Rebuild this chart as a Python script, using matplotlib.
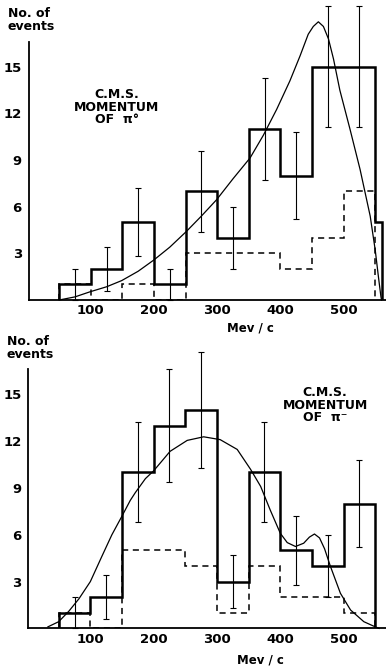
import matplotlib.pyplot as plt

# pi0 panel
top_edges = [50, 100, 150, 200, 250, 300, 350, 400, 450, 500, 550, 560]
top_counts = [1, 2, 5, 1, 7, 4, 11, 8, 15, 15, 5]
dash_edges = [50, 100, 150, 200, 250, 300, 350, 400, 450, 500, 550]
top_dash = [1, 0, 1, 0, 3, 3, 3, 2, 4, 7]
centers = [75, 125, 175, 225, 275, 325, 375, 425, 475, 525]
top_vals = [1, 2, 5, 1, 7, 4, 11, 8, 15, 15]
top_err = [1, 1.4, 2.2, 1, 2.6, 2, 3.3, 2.8, 3.9, 3.9]
top_curve_x = [50, 75, 99, 125, 149, 175, 200, 225, 251, 275, 299, 325, 352, 373, 394,
               415, 431, 444, 452, 460, 468, 476, 484, 494, 510, 526, 542, 550, 555, 559, 560]
top_curve_y = [0, 0.2, 0.53, 0.85, 1.25, 1.85, 2.58, 3.4, 4.4, 5.4, 6.45, 7.8, 9.14, 10.6, 12.26,
               14.1, 15.7, 17.1, 17.6, 17.9, 17.6, 16.8, 15.5, 13.5, 11.0, 8.4, 5.4, 3.2, 1.5, 0.2, 0]

# pi- panel
bot_edges = [50, 100, 150, 200, 250, 300, 350, 400, 450, 500, 550]
bot_counts = [1, 2, 10, 13, 14, 3, 10, 5, 4, 8]
bot_dash = [1, 0, 5, 5, 4, 1, 4, 2, 2, 1]
bot_err = [1, 1.4, 3.2, 3.6, 3.7, 1.7, 3.2, 2.2, 2, 2.8]
bot_curve_x = [33, 50, 66, 82, 100, 118, 134, 150, 163, 171, 187, 200, 226, 253, 279, 305,
               332, 353, 369, 384, 400, 411, 424, 437, 446, 454, 462, 470, 479, 495, 511,
               532, 550, 556]
bot_curve_y = [0.1, 0.43, 1.1, 1.9, 3.0, 4.6, 6.0, 7.2, 8.2, 8.7, 9.6, 10.1, 11.35, 12.05, 12.28, 12.1,
               11.47, 10.2, 9.1, 7.6, 6.1, 5.5, 5.25, 5.46, 5.85, 6.05, 5.8, 5.1, 4.0, 2.25, 1.18,
               0.43, 0.1, 0]

yticks = [3, 6, 9, 12, 15]
xticks = [100, 200, 300, 400, 500]

W, H = 386, 669
fig = plt.figure(figsize=(W / 100, H / 100), dpi=100)
font = dict(family='DejaVu Sans', fontweight='bold')


def draw_panel(ax, edges, counts, dash, vals, err, cx, cy):
    ax.stairs(counts, edges, color='black', lw=1.8, baseline=0)
    ax.stairs(dash, dash_edges, color='black', lw=1.1, ls=(0, (4, 3)), baseline=0)
    ax.errorbar(centers, vals, yerr=err, fmt='none', ecolor='black',
                elinewidth=0.8, capsize=2.5, capthick=0.8, clip_on=False)
    ax.plot(cx, cy, color='black', lw=0.9, clip_on=False)
    ax.set_xlim(2, 567)
    ax.set_ylim(0, 16.6)
    for s in ['top', 'right']:
        ax.spines[s].set_visible(False)
    for s in ['left', 'bottom']:
        ax.spines[s].set_linewidth(1.3)
    ax.set_yticks(yticks)
    ax.set_yticklabels([str(v) for v in yticks], fontsize=9.5, fontweight='bold')
    ax.set_xticks(xticks)
    ax.set_xticklabels([str(v) for v in xticks], fontsize=9.5, fontweight='bold')
    ax.tick_params(length=0)
    ax.tick_params(axis='y', pad=5)
    ax.tick_params(axis='x', pad=3)


ax1 = fig.add_axes([28.8 / W, (H - 300) / H, (W - 28.8) / W, 258 / H])
draw_panel(ax1, top_edges, top_counts, top_dash, top_vals, top_err,
           top_curve_x, top_curve_y)
ax1.text(141, 12.4, 'C.M.S.\nMOMENTUM\nOF  π°', ha='center', va='center',
         fontsize=9, linespacing=0.95, **font)

ax2 = fig.add_axes([28.3 / W, (H - 628.4) / H, (W - 28.3) / W, 259 / H])
draw_panel(ax2, bot_edges, bot_counts, bot_dash, bot_counts, bot_err,
           bot_curve_x, bot_curve_y)
ax2.text(471, 14.3, 'C.M.S.\nMOMENTUM\nOF  π⁻', ha='center', va='center',
         fontsize=9, linespacing=0.95, **font)

fig.text(8 / W, 1 - 20 / H, 'No. of\nevents', ha='left', va='center',
         fontsize=9, linespacing=1.0, **font)
fig.text(7 / W, 1 - 348 / H, 'No. of\nevents', ha='left', va='center',
         fontsize=9, linespacing=1.0, **font)
fig.text(250 / W, 1 - 328 / H, 'Mev / c', ha='center', va='center', fontsize=8.5, **font)
fig.text(260 / W, 1 - 660 / H, 'Mev / c', ha='center', va='center', fontsize=8.5, **font)

fig.savefig('out.png', dpi=100)
